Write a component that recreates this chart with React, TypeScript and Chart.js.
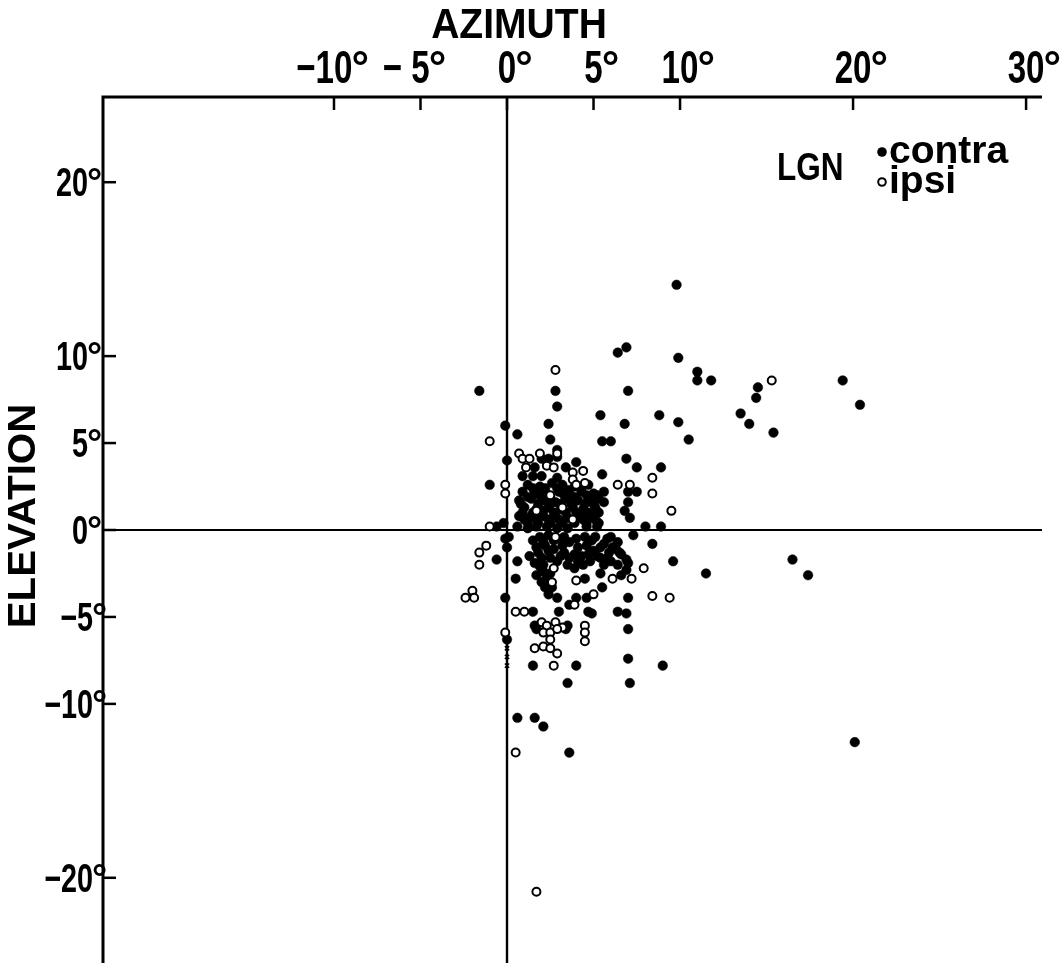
import React, { useEffect, useRef } from "react";
import { Chart, registerables } from "chart.js";

Chart.register(...registerables);

// Tick values and their printed labels
const azimuthTicks = [-10, -5, 0, 5, 10, 20, 30];
const azimuthPrefix = ["−", "− ", "", "", "", "", ""];
const azimuthDigits = ["10", "5", "0", "5", "10", "20", "30"];
const elevationTicks = [20, 10, 5, 0, -5, -10, -20];
const elevationPrefix = ["", "", "", "", "−", "−", "−"];
const elevationDigits = ["20", "10", "5", "0", "5", "10", "20"];

// LGN contralateral-eye receptive fields [azimuth°, elevation°]
const contraPoints: [number, number][] = [
  [9.8, 14.1], [6.4, 10.2], [6.9, 10.5], [9.9, 9.9], [11.0, 9.1], [11.0, 8.6], [11.8, 8.6],
  [14.5, 8.2], [14.4, 7.6], [19.4, 8.6], [20.4, 7.2], [13.5, 6.7], [14.0, 6.1], [15.4, 5.6],
  [7.0, 8.0], [8.8, 6.6], [9.9, 6.2], [10.5, 5.2], [6.8, 6.1], [5.5, 5.1], [6.0, 5.1], [5.4, 6.6],
  [-1.6, 8.0], [2.8, 8.0], [2.9, 7.1], [-0.1, 6.0], [0.6, 5.5], [2.4, 6.1], [2.5, 5.2], [0.0, 4.0],
  [-1.0, 2.6], [0.9, 3.1], [1.6, 3.6], [2.0, 4.1], [2.4, 4.1], [2.9, 4.6], [2.9, 4.2], [1.5, 3.1],
  [2.0, 3.1], [2.9, 3.0], [3.4, 3.6], [4.0, 3.9], [5.5, 3.2], [5.6, 2.2], [5.6, 1.6], [6.9, 4.1],
  [7.5, 3.6], [8.9, 3.6], [7.0, 2.2], [7.5, 2.2], [7.0, 1.6], [6.8, 1.1], [7.1, 0.7], [8.0, 0.2],
  [8.9, 0.2], [-0.2, 0.4], [0.1, -0.4], [7.3, -0.3], [6.0, -0.4],
  [-0.6, 0.2], [0.6, 0.2], [1.2, 0.1], [1.7, 0.2], [2.3, 0.2], [2.9, 0.1], [3.5, 0.1], [4.6, 0.2], [5.2, 0.2],
  [1.2, 2.6], [1.9, 2.5], [2.6, 2.7], [3.2, 2.6], [3.9, 2.5], [4.7, 2.6],
  [0.9, 2.2], [1.6, 2.1], [2.2, 2.2], [3.0, 2.2], [3.6, 2.1], [4.3, 2.2], [5.0, 2.1],
  [0.7, 1.7], [1.4, 1.8], [2.1, 1.7], [2.8, 1.6], [3.4, 1.8], [4.1, 1.7], [4.8, 1.7], [5.3, 1.8],
  [1.0, 1.3], [1.7, 1.2], [2.4, 1.3], [3.1, 1.2], [3.8, 1.3], [4.4, 1.2], [5.1, 1.3],
  [0.7, 0.8], [1.4, 0.8], [2.1, 0.8], [2.8, 0.8], [3.5, 0.7], [4.2, 0.8], [4.9, 0.8],
  [1.2, 0.4], [1.8, 0.4], [2.5, 0.4], [3.2, 0.4], [3.9, 0.4], [4.6, 0.4], [5.3, 0.4],
  [1.5, 2.4], [2.2, 2.4], [2.9, 2.4], [3.5, 2.3], [4.3, 2.4],
  [1.2, 1.9], [1.9, 2.0], [2.5, 1.9], [3.3, 2.0], [3.9, 1.9], [4.6, 2.0], [5.2, 2.0],
  [0.8, 1.5], [1.8, 1.5], [2.5, 1.5], [3.1, 1.5], [3.7, 1.5], [4.5, 1.5], [5.0, 1.5],
  [0.9, 1.0], [1.5, 1.0], [2.1, 1.1], [2.7, 1.0], [3.4, 1.0], [4.0, 1.0], [4.7, 1.0], [5.3, 1.0],
  [1.0, 0.6], [1.7, 0.6], [2.4, 0.6], [3.0, 0.6], [3.8, 0.6], [4.4, 0.6], [5.1, 0.6],
  [-0.6, -1.7], [-0.1, -0.5], [0.0, -1.0], [0.5, -2.8], [0.6, -1.8], [-0.1, -3.9], [1.7, -1.0],
  [1.9, -0.4], [2.4, -0.3], [2.9, -0.5], [3.2, -0.9], [3.6, -0.7], [4.1, -1.0], [4.6, -0.9],
  [4.9, -0.6], [5.4, -1.0], [5.8, -0.5], [6.4, -0.7], [6.6, -1.4], [6.9, -1.7], [1.3, -1.5],
  [2.0, -1.6], [2.1, -2.0], [2.5, -1.6], [2.9, -1.8], [3.5, -2.0], [3.9, -2.2], [4.4, -2.0],
  [4.8, -1.8], [5.4, -1.6], [6.0, -1.8], [6.4, -2.0], [6.9, -2.3], [6.6, -2.6], [1.7, -2.6],
  [2.0, -3.0], [2.2, -3.3], [2.6, -3.3], [2.1, -2.4], [2.3, -2.8], [4.5, -2.8], [5.4, -2.5],
  [5.5, -3.3], [7.0, -3.9], [2.4, -3.7], [2.9, -3.9], [3.6, -4.3], [4.0, -3.9], [4.6, -3.9],
  [4.7, -4.7], [6.4, -4.7], [6.9, -4.8], [3.0, -4.7], [1.5, -4.7], [7.0, -1.9], [6.5, -1.3],
  [6.1, -1.0], [8.4, -0.8], [9.6, -1.8], [7.0, -5.7], [7.0, -7.4], [7.1, -8.8], [4.9, -4.8],
  [9.0, -7.8], [3.5, -8.8], [1.7, -5.7], [1.6, -5.5], [3.4, -5.7], [3.5, -5.5], [1.5, -7.8],
  [4.0, -7.8], [0.6, -10.8], [1.6, -10.8], [2.1, -11.3], [3.6, -12.8], [20.1, -12.2],
  [16.5, -1.7], [17.4, -2.6], [11.5, -2.5], [0.0, -6.3],
  [1.5, -0.6], [2.2, -0.9], [2.7, -1.1], [3.3, -1.3], [3.9, -1.4], [4.3, -1.5], [5.0, -1.2],
  [5.9, -1.3], [6.3, -1.1], [1.9, -2.1], [2.5, -2.5], [1.6, -1.9], [3.1, -1.5], [5.6, -2.0],
  [2.1, -0.7], [2.7, -0.6], [3.3, -0.4], [4.0, -0.5], [4.5, -0.4], [5.1, -0.4], [5.6, -0.8],
  [1.8, -1.3], [2.4, -1.2], [3.6, -1.6], [4.1, -1.8], [4.7, -1.4], [5.2, -1.5], [5.8, -1.6],
];

// LGN ipsilateral-eye receptive fields [azimuth°, elevation°]
const ipsiPoints: [number, number][] = [
  [2.8, 9.2], [-1.0, 5.1], [-0.1, 2.6], [-0.1, 2.1], [0.7, 4.4], [0.9, 4.1], [1.3, 4.1],
  [1.1, 3.6], [1.9, 4.4], [2.3, 3.7], [2.7, 3.6], [2.9, 4.4], [3.8, 3.3], [4.4, 3.4], [3.8, 2.9],
  [4.0, 2.6], [4.5, 2.7], [6.4, 2.6], [7.1, 2.6], [8.4, 3.0], [8.4, 2.1], [9.5, 1.1], [15.3, 8.6],
  [-1.0, 0.2], [-1.6, -1.3], [-1.2, -0.9], [-1.6, -2.0], [-2.4, -3.9], [-2.0, -3.5], [-1.9, -3.9],
  [0.5, -4.7], [1.0, -4.7], [-0.1, -5.9], [2.0, -5.3], [2.3, -5.5], [2.8, -5.3], [3.2, -5.6],
  [2.1, -5.9], [2.5, -5.9], [2.9, -5.7], [2.5, -6.3], [2.1, -6.7], [1.6, -6.8], [2.5, -6.8],
  [2.9, -7.1], [2.7, -7.8], [4.5, -5.5], [4.5, -5.9], [4.5, -6.4], [8.4, -3.8], [9.4, -3.9],
  [7.9, -2.2], [7.2, -2.8], [6.1, -2.8], [4.0, -2.9], [5.0, -3.7], [2.7, -2.2], [2.6, -3.0],
  [3.9, -4.3], [0.5, -12.8], [1.7, -20.8],
  [2.5, 2.0], [3.2, 1.3], [1.7, 1.1], [3.8, 0.6], [2.8, -0.4],
];

// small crossed ipsi marks on the vertical meridian
const ipsiMarks: [number, number][] = [[0.0, -6.8], [0.0, -7.3], [0.0, -7.8]];

const FONT = '"Liberation Sans", Arial, Helvetica, sans-serif';

function drawLabel(ctx: any, pre: string, dig: string, startX: number, baseY: number, size: number, sx: number) {
  ctx.font = `bold ${size}px ${FONT}`;
  const w = ctx.measureText(pre + dig).width * sx;
  ctx.save();
  ctx.translate(startX, baseY);
  ctx.scale(sx, 1);
  ctx.fillText(pre + dig, 0, 0);
  ctx.restore();
  ctx.font = `bold ${Math.round(size * 0.95)}px ${FONT}`;
  ctx.fillText("°", startX + w - 1, baseY - size * 0.03);
}

const framePlugin = {
  id: "frame",
  beforeDatasetsDraw(chart: any) {
    const { ctx, chartArea: a, scales } = chart;
    const xs = scales.x;
    const ys = scales.y;
    const bottom = chart.height;
    ctx.save();
    ctx.strokeStyle = "#000";
    ctx.lineCap = "butt";
    ctx.lineWidth = 3;
    ctx.beginPath();
    ctx.moveTo(a.left, bottom);
    ctx.lineTo(a.left, a.top);
    ctx.lineTo(a.right, a.top);
    ctx.stroke();
    ctx.lineWidth = 2.4;
    const x0 = xs.getPixelForValue(0);
    const y0 = ys.getPixelForValue(0);
    ctx.beginPath();
    ctx.moveTo(x0, a.top);
    ctx.lineTo(x0, bottom);
    ctx.stroke();
    ctx.lineWidth = 2;
    ctx.beginPath();
    ctx.moveTo(a.left, y0);
    ctx.lineTo(a.right, y0);
    ctx.stroke();
    ctx.lineWidth = 2.5;
    azimuthTicks.forEach((v) => {
      const px = xs.getPixelForValue(v);
      ctx.beginPath();
      ctx.moveTo(px, a.top);
      ctx.lineTo(px, a.top + 13);
      ctx.stroke();
    });
    elevationTicks.forEach((v) => {
      const py = ys.getPixelForValue(v);
      ctx.beginPath();
      ctx.moveTo(a.left, py);
      ctx.lineTo(a.left + 13, py);
      ctx.stroke();
    });
    ctx.restore();
  },
  afterDraw(chart: any) {
    const { ctx, chartArea: a, scales } = chart;
    const xs = scales.x;
    const ys = scales.y;
    ctx.save();
    ctx.fillStyle = "#000";
    ctx.textAlign = "left";
    ctx.textBaseline = "alphabetic";
    const sx = 0.72;

    const topSize = 46;
    azimuthTicks.forEach((v, i) => {
      const pre = azimuthPrefix[i];
      const dig = azimuthDigits[i];
      ctx.font = `bold ${topSize}px ${FONT}`;
      const pw = ctx.measureText(pre).width;
      const dw = ctx.measureText(dig).width;
      const cx = xs.getPixelForValue(v);
      drawLabel(ctx, pre, dig, cx - (pw + dw / 2) * sx, a.top - 14, topSize, sx);
    });

    const leftSize = 40;
    elevationTicks.forEach((v, i) => {
      const pre = elevationPrefix[i];
      const dig = elevationDigits[i];
      ctx.font = `bold ${leftSize}px ${FONT}`;
      const pw = ctx.measureText(pre).width;
      const dw = ctx.measureText(dig).width;
      const py = ys.getPixelForValue(v);
      const rightX = a.left - (v < 0 ? 10 : 15);
      drawLabel(ctx, pre, dig, rightX - (pw + dw) * sx, py + 14, leftSize, sx);
    });

    ctx.font = `bold 42px ${FONT}`;
    ctx.save();
    ctx.translate(519, 38);
    ctx.scale(0.93, 1);
    ctx.textAlign = "center";
    ctx.fillText("AZIMUTH", 0, 0);
    ctx.restore();

    ctx.font = `bold 38px ${FONT}`;
    ctx.save();
    ctx.translate(35, 516);
    ctx.rotate(-Math.PI / 2);
    ctx.scale(1.06, 1);
    ctx.textAlign = "center";
    ctx.fillText("ELEVATION", 0, 0);
    ctx.restore();

    ctx.font = `bold 38px ${FONT}`;
    ctx.save();
    ctx.translate(777, 180);
    ctx.scale(0.83, 1);
    ctx.fillText("LGN", 0, 0);
    ctx.restore();
    ctx.font = `bold 39px ${FONT}`;
    ctx.fillText("contra", 889, 163);
    ctx.fillText("ipsi", 889, 193);
    ctx.beginPath();
    ctx.arc(882, 152, 4.8, 0, Math.PI * 2);
    ctx.fill();
    ctx.beginPath();
    ctx.arc(882, 182, 3.8, 0, Math.PI * 2);
    ctx.fillStyle = "#fff";
    ctx.fill();
    ctx.lineWidth = 2;
    ctx.strokeStyle = "#000";
    ctx.stroke();
    ctx.restore();
  },
};

export default function App() {
  const ref = useRef<HTMLCanvasElement | null>(null);
  useEffect(() => {
    if (!ref.current) return;
    const toXY = (p: [number, number]) => ({ x: p[0], y: p[1] });
    const chart = new Chart(ref.current, {
      type: "scatter",
      data: {
        datasets: [
          {
            label: "ipsi",
            data: ipsiPoints.map(toXY),
            pointRadius: 4,
            pointBorderWidth: 2,
            pointBackgroundColor: "#fff",
            pointBorderColor: "#000",
          },
          {
            label: "ipsi marks",
            data: ipsiMarks.map(toXY),
            pointStyle: "crossRot",
            pointRadius: 3,
            pointBorderWidth: 1.5,
            pointBorderColor: "#000",
          },
          {
            label: "contra",
            data: contraPoints.map(toXY),
            pointRadius: 4.8,
            pointBorderWidth: 0.5,
            pointBackgroundColor: "#000",
            pointBorderColor: "#000",
          },
        ],
      },
      options: {
        responsive: false,
        animation: false,
        devicePixelRatio: 1,
        layout: { autoPadding: false, padding: { left: 103, top: 97, right: 21, bottom: 0 } },
        plugins: {
          legend: { display: false },
          tooltip: { enabled: false },
        },
        events: [],
        scales: {
          x: { type: "linear", min: -23.35, max: 30.92, display: false },
          y: { type: "linear", min: -24.9, max: 24.9, display: false },
        },
      },
      plugins: [framePlugin],
    });
    return () => chart.destroy();
  }, []);
  return (
    <div style={{ position: "fixed", left: 0, top: 0, width: 1063, height: 963, background: "#fff" }}>
      <canvas ref={ref} width={1063} height={963} style={{ display: "block" }} />
    </div>
  );
}
